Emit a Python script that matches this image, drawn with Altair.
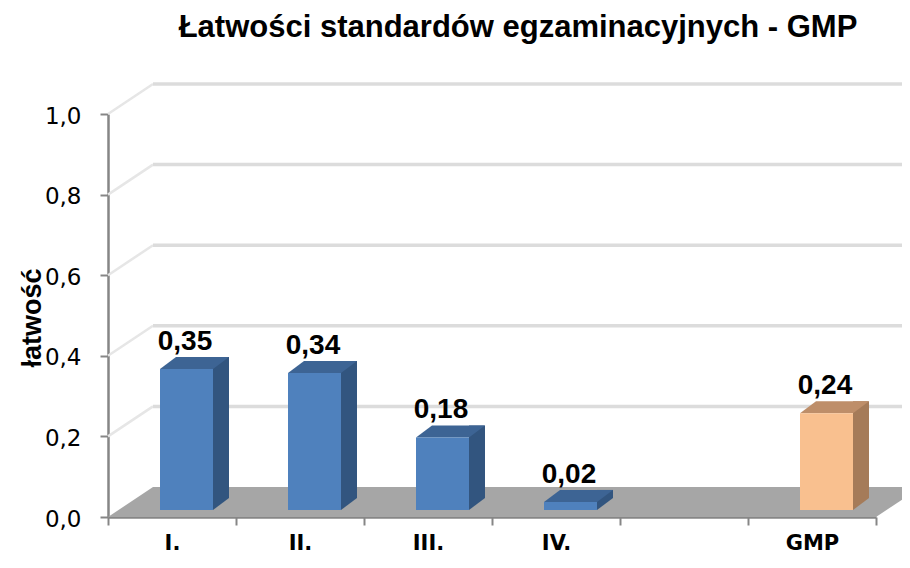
import altair as alt
import pandas as pd

# ---- data ----
categories = ["I.", "II.", "III.", "IV.", " ", "GMP"]
bar_cats = ["I.", "II.", "III.", "IV.", "GMP"]
bar_vals = [0.35, 0.34, 0.18, 0.02, 0.24]
y_ticks = [0.0, 0.2, 0.4, 0.6, 0.8, 1.0]
grid_vals = [0.2, 0.4, 0.6, 0.8, 1.0]
chart_title = "Łatwości standardów egzaminacyjnych  - GMP"
y_title = "łatwość"

# ---- layout / style ----
W, H = 768, 403
DX, DY = 45, 30
BLUE_F, BLUE_S, BLUE_T = "#4F81BD", "#32557F", "#3D6494"
ORG_F, ORG_S, ORG_T = "#F9C08F", "#A57B59", "#BE8E69"

bars = pd.DataFrame({"cat": bar_cats, "v": bar_vals})
bars["label"] = [f"{v:.2f}".replace(".", ",") for v in bar_vals]
grid = pd.DataFrame({"g": grid_vals})

xscale = alt.Scale(domain=categories, paddingInner=0, paddingOuter=0)
yscale = alt.Scale(domain=[0, 1], nice=False, zero=True)

is_gmp = alt.datum.cat == "GMP"


def col(a, b):
    return alt.condition(is_gmp, alt.value(a), alt.value(b))


x_axis = alt.Axis(
    title=None, tickBand="extent", labelAngle=0, grid=False,
    labelFont="DejaVu Sans", labelFontSize=21, labelFontWeight="bold",
    labelColor="black", labelPadding=7,
    domainColor="#868686", domainWidth=2.5,
    tickColor="#868686", tickWidth=2, tickSize=8,
)
y_axis = alt.Axis(
    values=y_ticks, grid=False,
    labelExpr="replace(format(datum.value, '.1f'), '.', ',')",
    labelFont="DejaVu Sans", labelFontSize=23, labelColor="black",
    labelPadding=19, labelOffset=2,
    domainColor="#868686", domainWidth=2.5,
    tickColor="#868686", tickWidth=2, tickSize=8,
    title=y_title, titleFont="Liberation Sans", titleFontSize=27,
    titleFontWeight="bold", titleColor="black", titleAngle=-90,
    titleX=-76, titleY=H / 2 + 2, titleAlign="center", titleBaseline="middle",
)

X = alt.X("cat:N", scale=xscale, axis=x_axis)
YV = alt.Y("v:Q", scale=yscale, axis=y_axis)
Y0 = alt.YDatum(0, scale=yscale, axis=y_axis)
YG = alt.Y("g:Q", scale=yscale, axis=y_axis)

base = alt.Chart(bars)

floor = alt.Chart(pd.DataFrame({"d": [0]})).mark_point(
    shape=f"M 0 0 L {W} 0 L {W + DX} {-DY} L {DX} {-DY} Z",
    size=4, filled=True, opacity=1, color="#A6A6A6", strokeWidth=0,
).encode(x=alt.value(0), y=Y0)

grid_diag = alt.Chart(grid).mark_rule(
    color="#E6E6E6", strokeWidth=2.5, y2Offset=-DY
).encode(
    x=alt.value(0), x2=alt.value(DX),
    y=YG, y2=alt.Y2("g:Q"),
)
grid_h = alt.Chart(grid).mark_rule(
    color="#DCDCDC", strokeWidth=3.5, yOffset=-DY
).encode(
    x=alt.value(DX), x2=alt.value(W + DX + 10),
    y=YG,
)

side = base.mark_bar(width=16, xOffset=49, yOffset=-19, y2Offset=-19).encode(
    x=X, y=YV, y2=alt.Y2Datum(0),
    color=col(ORG_S, BLUE_S),
)
side_bottom = base.mark_point(
    shape="M 41 -19 L 57 -19 L 41 -7 Z", size=4, filled=True, opacity=1,
    strokeWidth=0,
).encode(x=X, y=Y0, color=col(ORG_S, BLUE_S))
top_face = base.mark_point(
    shape="M -12 -7 L 41 -7 L 57 -19 L 4 -19 Z", size=4, filled=True,
    opacity=1, strokeWidth=0,
).encode(x=X, y=YV, color=col(ORG_T, BLUE_T))
front = base.mark_bar(width=53, xOffset=14.5, yOffset=-7, y2Offset=-7).encode(
    x=X, y=YV, y2=alt.Y2Datum(0),
    color=col(ORG_F, BLUE_F),
)
labels = base.mark_text(
    dx=13, dy=-26, baseline="alphabetic", align="center",
    font="Liberation Sans", fontSize=28, fontWeight="bold", color="black",
).encode(x=X, y=YV, text="label:N")

chart = alt.layer(
    floor, grid_diag, grid_h, side, side_bottom, top_face, front, labels
).properties(
    width=W, height=H,
    autosize=alt.AutoSizeParams(type="none"),
    padding={"left": 100, "top": 106, "right": 26, "bottom": 43},
    background="white",
    title=alt.TitleParams(
        chart_title, font="Liberation Sans", fontSize=31, fontWeight="bold",
        color="black", anchor="middle", frame="group", dx=26,
        baseline="alphabetic", offset=14,
    ),
).configure_view(stroke=None)

chart.save("out.html", embed_options={"renderer": "svg", "actions": False})
